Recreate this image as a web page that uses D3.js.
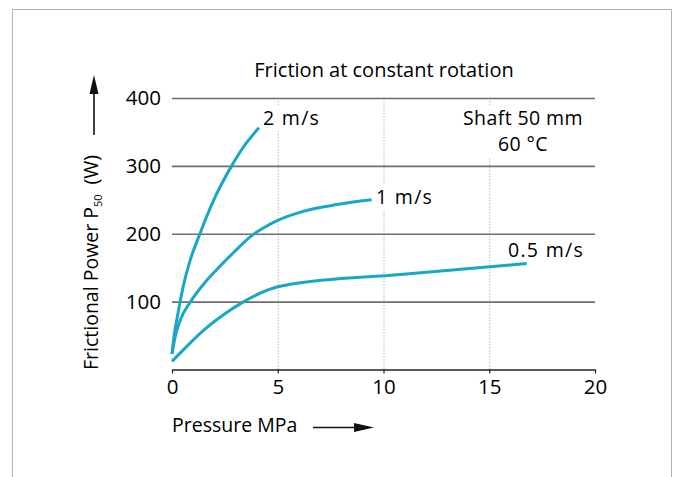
<!DOCTYPE html>
<html>
<head>
<meta charset="utf-8">
<script src="https://cdn.jsdelivr.net/npm/d3@7"></script>
<style>
  html, body { margin: 0; padding: 0; background: #fff; }
  svg { display: block; font-family: "Open Sans", "Noto Sans", sans-serif; }
</style>
</head>
<body>
<div id="chart"></div>
<script>
// Tamaño de la página
const width = 680;
const height = 477;

// Datos (presión MPa -> potencia W)
const speedLabels = ["2 m/s", "1 m/s", "0.5 m/s"];
const pressure2 = [0, 0.1, 0.22, 0.36, 0.55, 0.85, 1.32, 1.95, 2.82, 3.5, 4.11];
const power2    = [23, 50, 72, 96, 125, 160, 200, 248, 300, 333, 356];
const pressure1 = [0, 0.15, 0.38, 0.88, 1.5, 2.11, 2.9, 3.8, 4.4, 4.95, 6.2, 7.8, 9.44];
const power1    = [23, 48, 72, 100, 126, 147, 172, 198, 210, 219, 233, 243, 250];
const pressure05 = [0, 0.76, 1.5, 2.4, 3.4, 4.2, 5.0, 5.6, 10.8, 16.77];
const power05    = [12, 36, 58, 80, 100, 113, 122, 125.5, 140, 156];

const xTicks = [0, 5, 10, 15, 20];
const yTicks = [100, 200, 300, 400];
const title = "Friction at constant rotation";
const xTitle = "Pressure MPa";
const noteLines = ["Shaft 50 mm", "60 °C"];

const series = [
  {label: speedLabels[0], x: pressure2, y: power2},
  {label: speedLabels[1], x: pressure1, y: power1},
  {label: speedLabels[2], x: pressure05, y: power05}
];

const curveColor = "#17a8c6";
const fontSize = 19.5;
const textColor = "#000";

const svg = d3.select("#chart")
  .append("svg")
  .attr("width", width)
  .attr("height", height);

// Marco exterior (sin borde inferior)
svg.append("path")
  .attr("d", "M12.5,477 V9.5 H671.5 V477")
  .attr("fill", "none")
  .attr("stroke", "#b4b4b4")
  .attr("stroke-width", 1);

// Escalas
const x = d3.scaleLinear().domain([0, 20]).range([172, 595]);
const y = d3.scaleLinear().domain([0, 400]).range([369.5, 98]);

// Líneas verticales punteadas
svg.append("g")
  .selectAll("line")
  .data(xTicks.filter(d => d > 0 && d < 20))
  .join("line")
  .attr("x1", d => x(d) + 0.5).attr("x2", d => x(d) + 0.5)
  .attr("y1", y(400)).attr("y2", y(0))
  .attr("stroke", "#b8b8b8")
  .attr("stroke-width", 1)
  .attr("stroke-dasharray", "1.5,1.5");

// Etiqueta; con fondo blanco si tapa una línea punteada
function label(g, lines, xPos, yPos, anchor, spacing, withBg) {
  const grp = g.append("g");
  const bg = grp.append("rect").attr("fill", "#fff");
  const t = grp.append("text")
    .attr("font-size", fontSize)
    .attr("fill", textColor)
    .attr("text-anchor", anchor)
    .attr("letter-spacing", spacing || 0);
  lines.forEach((l, i) => {
    t.append("tspan").attr("x", xPos).attr("y", yPos + i * 26).text(l);
  });
  if (withBg) {
    const bb = t.node().getBBox();
    bg.attr("x", bb.x - 2).attr("y", bb.y + 2)
      .attr("width", bb.width + 4).attr("height", bb.height - 2);
  } else {
    bg.remove();
  }
  return grp;
}

// Etiquetas de velocidad, cerca del final de cada curva
const labelPos = [[263, 125], [376, 204], [508, 257]];
series.forEach((s, i) => {
  label(svg, [s.label], labelPos[i][0], labelPos[i][1], "start", 1.3, i < 2);
});

// Nota
label(svg, noteLines, 523, 125, "middle", 0.4, true);

// Rejilla horizontal + etiquetas del eje Y
const yAxis = svg.append("g")
  .attr("transform", `translate(${x(0)},0)`)
  .call(d3.axisLeft(y)
    .tickValues(yTicks)
    .tickSizeInner(-(x(20) - x(0)))
    .tickSizeOuter(0)
    .tickPadding(11));
yAxis.select(".domain").remove();
yAxis.selectAll(".tick line").attr("stroke", "#6e6e6e").attr("stroke-width", 1.6);
yAxis.selectAll(".tick text")
  .attr("font-size", 20.5)
  .attr("font-family", "Open Sans")
  .attr("fill", textColor);

// Eje X
const xAxis = svg.append("g")
  .attr("transform", `translate(0,${y(0)})`)
  .call(d3.axisBottom(x)
    .tickValues(xTicks)
    .tickSizeInner(4)
    .tickSizeOuter(0)
    .tickPadding(6));
xAxis.select(".domain").attr("stroke", "#222").attr("stroke-width", 1.5);
xAxis.selectAll(".tick line").attr("stroke", "#222").attr("stroke-width", 1.2);
xAxis.selectAll(".tick text")
  .attr("font-size", 20.5)
  .attr("font-family", "Open Sans")
  .attr("fill", textColor);

// Curvas
const line = d3.line()
  .x(d => x(d[0]))
  .y(d => y(d[1]))
  .curve(d3.curveMonotoneX);

svg.append("g")
  .selectAll("path")
  .data(series)
  .join("path")
  .attr("d", s => line(s.x.map((v, i) => [v, s.y[i]])))
  .attr("fill", "none")
  .attr("stroke", curveColor)
  .attr("stroke-width", 3)
  .attr("stroke-linecap", "butt");

// Título
svg.append("text")
  .attr("x", 384)
  .attr("y", 77)
  .attr("text-anchor", "middle")
  .attr("font-size", 20)
  .attr("fill", textColor)
  .text(title);

// Título eje X con flecha
svg.append("text")
  .attr("x", 172)
  .attr("y", 432)
  .attr("font-size", fontSize)
  .attr("fill", textColor)
  .text(xTitle);

svg.append("line")
  .attr("x1", 313).attr("x2", 356)
  .attr("y1", 427.5).attr("y2", 427.5)
  .attr("stroke", "#111").attr("stroke-width", 1.6);
svg.append("path")
  .attr("d", "M354,423 L374,427.5 L354,432 Z")
  .attr("fill", "#111");

// Título eje Y (rotado) con subíndice
const yt = svg.append("text")
  .attr("transform", "translate(98,370) rotate(-90)")
  .attr("font-size", fontSize)
  .attr("fill", textColor);
yt.append("tspan").text("Frictional Power P");
yt.append("tspan").attr("font-size", 11).attr("dy", 4).text("50");
yt.append("tspan").attr("dy", -4).attr("dx", 10).text("(W)");

svg.append("line")
  .attr("x1", 94).attr("x2", 94)
  .attr("y1", 135).attr("y2", 92)
  .attr("stroke", "#111").attr("stroke-width", 1.6);
svg.append("path")
  .attr("d", "M89.5,94 L94,75 L98.5,94 Z")
  .attr("fill", "#111");
</script>
</body>
</html>
